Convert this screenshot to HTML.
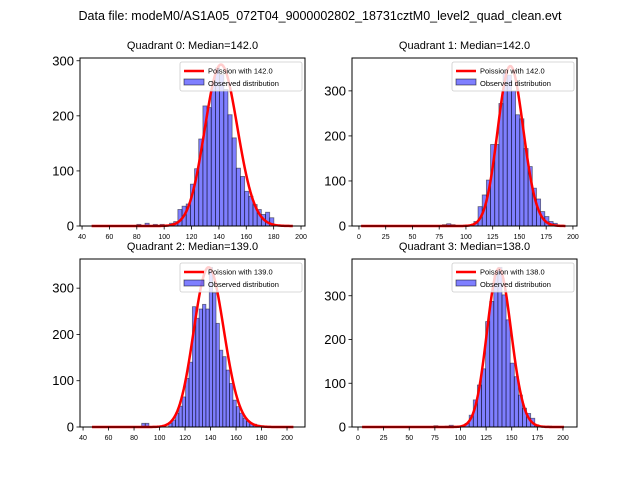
<!DOCTYPE html>
<html><head><meta charset="utf-8"><style>
body{margin:0;background:#fff;}
svg{display:block;font-family:"Liberation Sans","DejaVu Sans",sans-serif;}
</style></head><body>
<svg id="chart" width="640" height="480" viewBox="0 0 640 480">
<text x="320" y="20" text-anchor="middle" font-size="12.5">Data file: modeM0/AS1A05_072T04_9000002802_18731cztM0_level2_quad_clean.evt</text>
</svg>
<script>
// ---- data ----
const quadTitles = ["Quadrant 0: Median=142.0","Quadrant 1: Median=142.0","Quadrant 2: Median=139.0","Quadrant 3: Median=138.0"];
const poissonMeans = [142.0,142.0,139.0,138.0];
const curvePeaks = [293,355,345,362];
const curveMin = [47,2,47,4];
const curveMax = [194,193,205,201];
const binStarts = [103.9,107.4,107.2,104.5];
const binWidths = [3.05,3.9,2.65,4.0];
const counts0 = [5,8,30,36,40,76,104,158,218,215,263,287,275,248,202,160,105,90,63,54,39,30,21,25,15];
const counts1 = [10,43,69,102,181,181,272,340,335,300,247,238,172,132,84,60,32,21,10,6];
const counts2 = [8,15,30,45,65,105,140,260,235,255,265,255,345,290,224,166,152,123,94,58,44,30,19,12,8,6,4,3];
const counts3 = [8,27,62,96,133,241,287,348,365,302,245,146,115,73,43,31,20,5];
const tailX0 = [80,86,92,97]; const tailC0 = [3,5,3,3];
const tailX1 = [78,82,86]; const tailC1 = [3,5,3];
const tailX2 = [86,89]; const tailC2 = [8,8];
const tailX3 = [74,85,89,185]; const tailC3 = [3,2,4,2];
const xTicks0 = [40,60,80,100,120,140,160,180,200];
const xTicks1 = [0,25,50,75,100,125,150,175,200];
const yTicks = [0,100,200,300];
const legendLine = "Poission with ";
const legendPatch = "Observed distribution";

// ---- layout ----
const panels = [
 {l:80,r:305,t:58,b:226,xmin:38.5,xmax:202.9,ymax:305,counts:counts0,tx:tailX0,tc:tailC0,xt:xTicks0},
 {l:352,r:577,t:58,b:226,xmin:-6.5,xmax:203.8,ymax:373,counts:counts1,tx:tailX1,tc:tailC1,xt:xTicks1},
 {l:80,r:305,t:259,b:427,xmin:37.6,xmax:214.1,ymax:363,counts:counts2,tx:tailX2,tc:tailC2,xt:xTicks0},
 {l:352,r:577,t:259,b:427,xmin:-5.85,xmax:213.7,ymax:384,counts:counts3,tx:tailX3,tc:tailC3,xt:xTicks1}
];
const NS="http://www.w3.org/2000/svg";
const svg=document.getElementById('chart');
function mk(tag,attrs,parent){const e=document.createElementNS(NS,tag);for(const k in attrs)e.setAttribute(k,attrs[k]);(parent||svg).appendChild(e);return e;}
function lgamma(z){return (z-0.5)*Math.log(z)-z+0.5*Math.log(2*Math.PI)+1/(12*z)-1/(360*z*z*z);}
function pois(k,mu){return Math.exp(k*Math.log(mu)-mu-lgamma(k+1));}

panels.forEach((p,i)=>{
  const g=mk('g',{});
  
  
  const X=v=>p.l+(v-p.xmin)/(p.xmax-p.xmin)*(p.r-p.l);
  const Y=v=>p.b-v/p.ymax*(p.b-p.t);
  const bw=binWidths[i];
  p.counts.forEach((c,j)=>{
    const x0=binStarts[i]+j*bw;
    const r=mk('rect',{x:X(x0),y:Y(c),width:X(x0+bw)-X(x0),height:p.b-Y(c),fill:'rgba(0,0,255,0.5)',stroke:'rgba(0,0,0,0.5)','stroke-width':0.8},g);
    
    
  });
  p.tx.forEach((xv,j)=>{
    const r=mk('rect',{x:X(xv),y:Y(p.tc[j]),width:X(xv+bw)-X(xv),height:p.b-Y(p.tc[j]),fill:'rgba(0,0,255,0.5)',stroke:'rgba(0,0,0,0.5)','stroke-width':0.8},g);
    
    
  });
  const mu=poissonMeans[i];
  const scale=curvePeaks[i]/pois(Math.floor(mu),mu);
  let d='';
  for(let k=curveMin[i];k<=curveMax[i];k++){
    d+=(d?'L':'M')+X(k).toFixed(2)+','+Y(pois(k,mu)*scale).toFixed(2);
  }
  const cl=mk('path',{d:d,fill:'none',stroke:'#ff0000','stroke-width':2.5,'stroke-linejoin':'round'},g);
  
  
  const fr=mk('rect',{x:p.l,y:p.t,width:p.r-p.l,height:p.b-p.t,fill:'none',stroke:'#000','stroke-width':1},g);
  
  
  p.xt.forEach(v=>{
    mk('line',{x1:X(v),x2:X(v),y1:p.b,y2:p.b+3.5,stroke:'#000','stroke-width':0.8},g);
    const t=mk('text',{x:X(v),y:p.b+13,'font-size':7,'text-anchor':'middle'},g);
    t.textContent=v;
    
    
  });
  yTicks.forEach(v=>{
    mk('line',{x1:p.l-3.5,x2:p.l,y1:Y(v),y2:Y(v),stroke:'#000','stroke-width':0.8},g);
    const t=mk('text',{x:p.l-6,y:Y(v)+4.5,'font-size':13,'text-anchor':'end'},g);
    t.textContent=v;
    
    
  });
  const tt=mk('text',{x:(p.l+p.r)/2,y:p.t-9,'font-size':11,'text-anchor':'middle'},g);
  tt.textContent=quadTitles[i];
  
  
  const lg=mk('g',{},g);
  
  
  const lx=p.r-125, ly=p.t+4;
  mk('rect',{x:lx,y:ly,width:122,height:29,rx:2,fill:'rgba(255,255,255,0.8)',stroke:'#ccc','stroke-width':0.8},lg);
  mk('line',{x1:lx+4,x2:lx+24,y1:ly+9,y2:ly+9,stroke:'#ff0000','stroke-width':2.5},lg);
  const t1=mk('text',{x:lx+28,y:ly+11.5,'font-size':7.5},lg);
  t1.textContent=legendLine+mu.toFixed(1);
  
  
  mk('rect',{x:lx+4,y:ly+17,width:20,height:6,fill:'rgba(0,0,255,0.5)',stroke:'rgba(0,0,0,0.6)','stroke-width':0.8},lg);
  const t2=mk('text',{x:lx+28,y:ly+24,'font-size':7.5},lg);
  t2.textContent=legendPatch;
  
  
});
</script>
</body></html>
